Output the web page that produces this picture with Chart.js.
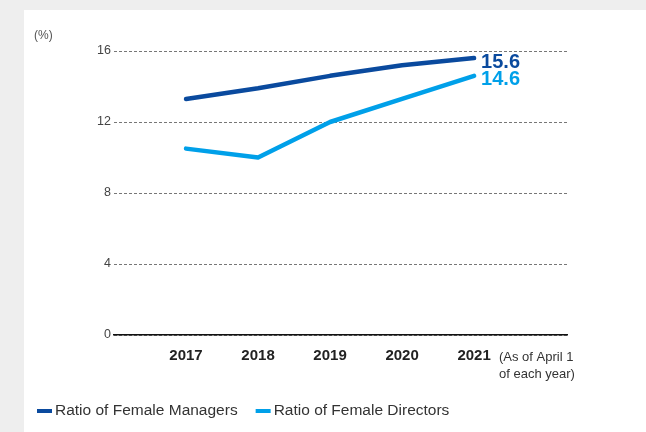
<!DOCTYPE html>
<html>
<head>
<meta charset="utf-8">
<script src="https://cdn.jsdelivr.net/npm/chart.js@4/dist/chart.umd.min.js"></script>
<style>
  html, body { margin: 0; padding: 0; background: #eeeeee; }
  #panel { position: absolute; left: 24px; top: 10px; width: 622px; height: 422px; background: #ffffff; }
  #wrap { position: absolute; left: 0; top: 0; width: 646px; height: 432px; }
</style>
</head>
<body>
<div id="panel"></div>
<div id="wrap"><canvas id="c" width="646" height="432"></canvas></div>
<script>
const years = [2017, 2018, 2019, 2020, 2021];
const managers = [13.3, 13.9, 14.6, 15.2, 15.6];
const directors = [10.5, 10.0, 12.0, 13.3, 14.6];
const yTicks = [0, 4, 8, 12, 16];
const seriesNames = ['Ratio of Female Managers', 'Ratio of Female Directors'];
const unitLabel = '(%)';
const noteLines = ['(As of April 1', 'of each year)'];

const FONT = "'Liberation Sans', Arial, Helvetica, sans-serif";
const DARK = '#0a4a9e';
const LIGHT = '#00a0e9';

// value label at the end of each line
const endLabels = {
  id: 'endLabels',
  afterDatasetsDraw(chart) {
    const ctx = chart.ctx;
    ctx.save();
    ctx.font = 'bold 20px ' + FONT;
    ctx.textAlign = 'left';
    ctx.textBaseline = 'middle';
    chart.data.datasets.forEach((ds, i) => {
      const meta = chart.getDatasetMeta(i);
      const last = meta.data[meta.data.length - 1];
      const v = ds.data[ds.data.length - 1].y;
      ctx.fillStyle = ds.borderColor;
      ctx.fillText(v.toFixed(1), last.x + 7, last.y + 4);
    });
    ctx.restore();
  }
};

// unit caption, footnote and legend
const extras = {
  id: 'extras',
  afterDraw(chart) {
    const ctx = chart.ctx;
    ctx.save();
    ctx.textBaseline = 'middle';
    ctx.textAlign = 'left';
    ctx.fillStyle = '#555555';
    ctx.font = '12px ' + FONT;
    ctx.fillText(unitLabel, 34, 36);

    ctx.fillStyle = '#333333';
    ctx.font = '13px ' + FONT;
    noteLines.forEach((t, i) => ctx.fillText(t, 499, 357 + i * 17));

    // legend
    ctx.font = '15.5px ' + FONT;
    let x = 37;
    const y = 411;
    chart.data.datasets.forEach((ds) => {
      ctx.fillStyle = ds.borderColor;
      ctx.fillRect(x, y - 2, 15, 4);
      ctx.fillStyle = '#333333';
      ctx.fillText(ds.label, x + 18, y);
      x += 18 + ctx.measureText(ds.label).width + 18;
    });
    ctx.restore();
  }
};

new Chart(document.getElementById('c'), {
  type: 'line',
  data: {
    datasets: [
      {
        label: seriesNames[0],
        data: years.map((yr, i) => ({ x: yr, y: managers[i] })),
        borderColor: DARK,
        backgroundColor: DARK,
        borderWidth: 4.5,
        borderCapStyle: 'round',
        borderJoinStyle: 'round',
        pointRadius: 0,
        tension: 0
      },
      {
        label: seriesNames[1],
        data: years.map((yr, i) => ({ x: yr, y: directors[i] })),
        borderColor: LIGHT,
        backgroundColor: LIGHT,
        borderWidth: 4.5,
        borderCapStyle: 'round',
        borderJoinStyle: 'round',
        pointRadius: 0,
        tension: 0
      }
    ]
  },
  options: {
    responsive: false,
    animation: false,
    layout: { padding: { left: 0, right: 79, top: 51, bottom: 0 } },
    plugins: { legend: { display: false }, tooltip: { enabled: false } },
    scales: {
      x: {
        type: 'linear',
        min: 2016,
        max: 2022.29,
        grid: { display: false },
        border: { display: true, color: '#111111', width: 1.5 },
        afterBuildTicks(scale) { scale.ticks = years.map(v => ({ value: v })); },
        afterFit(scale) { scale.height = 97; },
        ticks: {
          padding: 4,
          color: '#222222',
          font: { family: FONT, size: 15, weight: 'bold' },
          callback: v => String(v)
        }
      },
      y: {
        min: 0,
        max: 16,
        afterBuildTicks(scale) { scale.ticks = yTicks.map(v => ({ value: v })); },
        afterFit(scale) { scale.width = 114; },
        grid: { color: '#777777', lineWidth: 1, drawTicks: false },
        border: { display: false, dash: [3, 2] },
        ticks: {
          padding: 3,
          color: '#444444',
          font: { family: FONT, size: 12.5 }
        }
      }
    }
  },
  plugins: [endLabels, extras]
});
</script>
</body>
</html>
